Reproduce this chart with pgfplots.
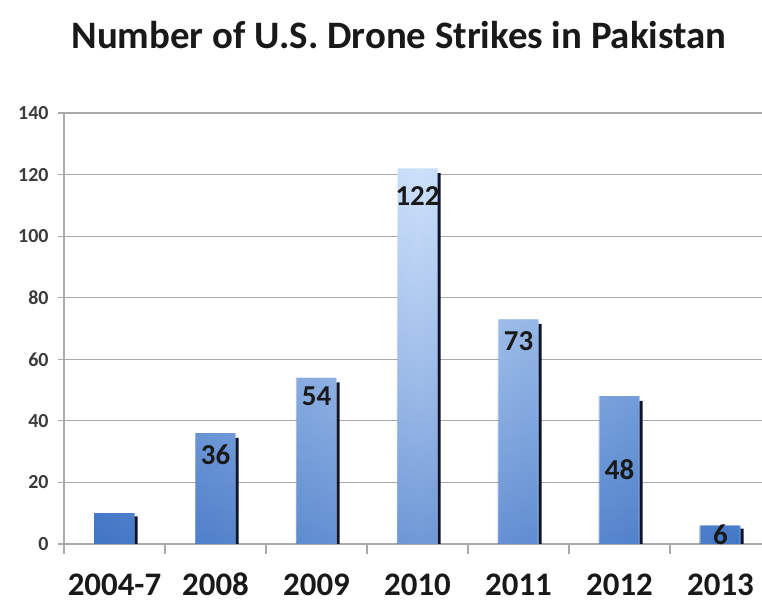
\documentclass[border=0pt]{standalone}
\usepackage{pgfplots}
\pgfplotsset{compat=1.18}
\usetikzlibrary{fadings}
\usepackage{fontspec}
\setmainfont{Carlito}
\definecolor{barL}{RGB}{95,145,215}
\definecolor{barM}{RGB}{190,216,250}
\definecolor{barR}{RGB}{100,150,218}
\definecolor{barBot}{RGB}{35,90,180}
\definecolor{shadowc}{RGB}{15,20,40}
\definecolor{gridc}{RGB}{170,170,170}
\definecolor{txtc}{RGB}{25,25,25}
\begin{document}
\begin{tikzpicture}
\useasboundingbox (0,0) rectangle (762bp,603bp);
\node[font=\fontsize{39}{44}\selectfont\bfseries, text=txtc] at (399bp,568bp) {Number of U.S. Drone Strikes in Pakistan};
\begin{axis}[
  at={(64bp,59bp)}, anchor=south west,
  scale only axis, width=707bp, height=431bp,
  xmin=-0.5, xmax=6.5, ymin=0, ymax=140,
  axis x line*=bottom, axis y line*=left,
  axis line style={-, gridc, line width=1.2bp},
  ytick={0,20,...,140}, ymajorgrids,
  grid style={gridc, line width=1.2bp},
  xtick={0,...,6},
  xticklabels={2004-7,2008,2009,2010,2011,2012,2013},
  minor xtick={-0.5,0.5,...,5.5},
  major x tick style={draw=none},
  minor x tick style={gridc, line width=1.2bp},
  major y tick style={gridc, line width=1.2bp},
  tick align=outside,
  minor tick length=10bp,
  major tick length=6bp,
  /pgf/number format/assume math mode=true,
  yticklabel style={font=\fontsize{20}{20}\selectfont\bfseries, text=txtc!85, xshift=-6bp},
  xticklabel style={font=\fontsize{33}{33}\selectfont\bfseries, text=txtc, anchor=north, inner sep=0pt, text height=21bp, text depth=0bp, yshift=-24bp},
]
\addplot[ybar, bar width=6bp, bar shift=20bp, fill=shadowc, draw=none]
  coordinates {(0,9) (1,34.5) (2,52.5) (3,120.5) (4,71.5) (5,46.5) (6,5)};
\addplot[ybar, bar width=40bp, bar shift=0bp, left color=barL, right color=barR, middle color=barM, draw=none]
  coordinates {(0,10) (1,36) (2,54) (3,122) (4,73) (5,48) (6,6)};
\addplot[ybar, bar width=40bp, bar shift=0bp, fill=barBot, path fading=north, fill opacity=0.5, draw=none]
  coordinates {(0,10) (1,36) (2,54) (3,122) (4,73) (5,48) (6,6)};
\addplot[ybar, bar width=40bp, bar shift=0bp, fill=white, path fading=south, fill opacity=0.25, draw=none]
  coordinates {(0,10) (1,36) (2,54) (3,122) (4,73) (5,48) (6,6)};
\addplot[only marks, mark=none, nodes near coords, point meta=explicit symbolic,
  nodes near coords style={font=\fontsize{29}{29}\selectfont\bfseries, text=txtc, anchor=center}]
  coordinates {(1,29)[36] (2,48)[54] (3,113)[122] (4,66)[73] (5,24)[48] (6,3)[6]};
\end{axis}
\end{tikzpicture}
\end{document}
